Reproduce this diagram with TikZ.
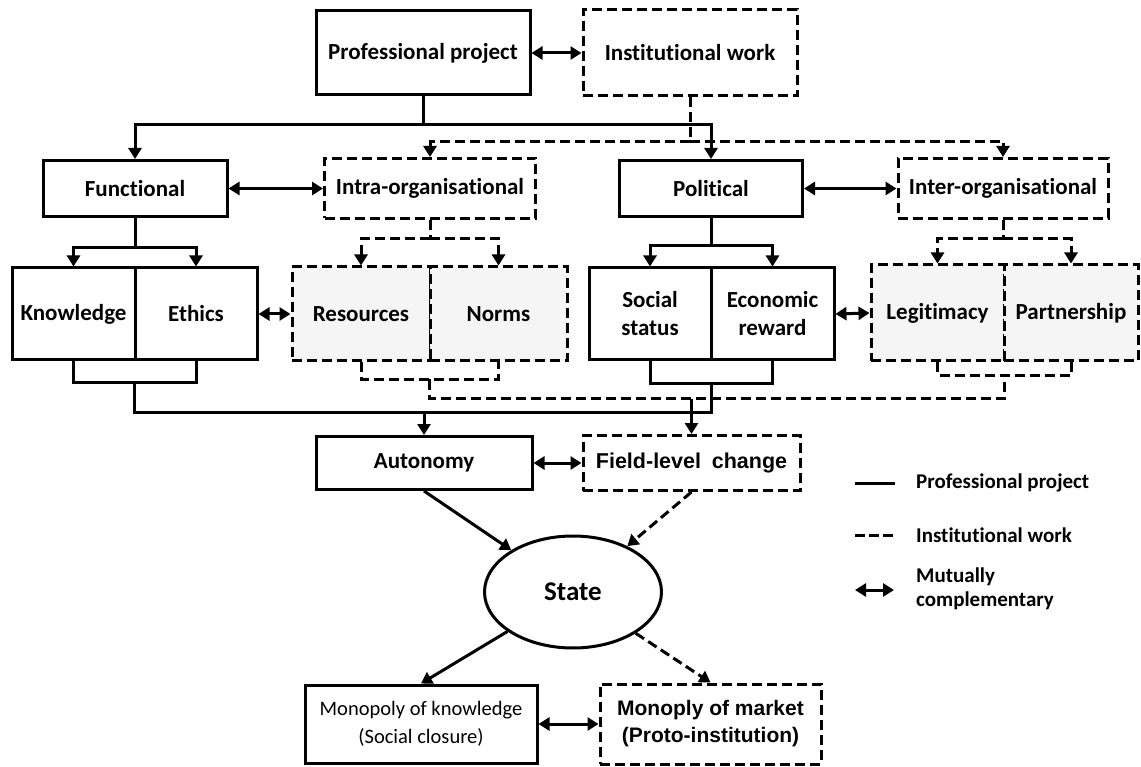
\documentclass[tikz,border=0pt]{standalone}
\usepackage{fontspec}
\setmainfont{Carlito}[Ligatures={NoCommon}]
\newfontfamily\arialf{Liberation Sans}
\usetikzlibrary{arrows.meta,shapes.geometric,calc}
\begin{document}
\begin{tikzpicture}[x=1pt,y=-1pt,
  lw/.style={line width=3pt},
  dpat/.style={dash pattern=on 10pt off 5pt},
  sbox/.style={draw,lw,rectangle,inner sep=0pt,align=center,font=\fontsize{23}{28}\selectfont\bfseries},
  dbox/.style={sbox,dpat},
  gbox/.style={dbox,fill=black!4},
  conn/.style={lw},
  dconn/.style={lw,dpat},
  tip/.style={-{Triangle[length=11pt,width=13pt]}},
  both/.style={lw,{Triangle[length=11pt,width=13pt]}-{Triangle[length=11pt,width=13pt]}},
]
\useasboundingbox (0,0) rectangle (1141,767);

% top row
\node[sbox,minimum width=214pt,minimum height=84pt] (pp) at (423,53) {Professional project};
\node[dbox,minimum width=214pt,minimum height=86pt] (iw) at (690,53) {Institutional work};

% second row
\node[sbox,minimum width=184pt,minimum height=56pt] (func) at (135,188.5) {Functional};
\node[dbox,minimum width=211pt,minimum height=60pt] (intra) at (430,188.5) {Intra-organisational};
\node[sbox,minimum width=183pt,minimum height=56pt] (pol) at (711,188.5) {Political};
\node[dbox,minimum width=210pt,minimum height=60pt] (inter) at (1003,188.5) {Inter-organisational};

% third row
\node[sbox,minimum width=123pt,minimum height=92pt] (know) at (73.5,314) {Knowledge};
\node[sbox,minimum width=122pt,minimum height=92pt] (eth) at (196,314) {Ethics};
\node[gbox,minimum width=138pt,minimum height=94pt] (res) at (361,314) {Resources};
\node[gbox,minimum width=137pt,minimum height=94pt] (norms) at (498.5,314) {Norms};
\node[sbox,minimum width=122pt,minimum height=92pt] (soc) at (650,314) {Social\\status};
\node[sbox,minimum width=123pt,minimum height=92pt] (eco) at (772.5,314) {Economic\\reward};
\node[gbox,minimum width=133pt,minimum height=96pt] (leg) at (937.5,313) {Legitimacy};
\node[gbox,minimum width=134pt,minimum height=96pt] (part) at (1071,313) {Partnership};

% fourth row
\node[sbox,minimum width=216pt,minimum height=53pt] (auto) at (424,463) {Autonomy};
\node[dbox,minimum width=217pt,minimum height=55pt,font=\fontsize{21.5}{26}\selectfont\bfseries\arialf] (field) at (691.5,463) {Field-level\enspace change};

% state
\node[draw,lw,ellipse,minimum width=177pt,minimum height=112pt,inner sep=0pt,font=\fontsize{27}{32}\selectfont\bfseries] (state) at (573,592) {State};

% bottom
\node[sbox,minimum width=232pt,minimum height=78pt,font=\fontsize{20.5}{28}\selectfont] (mok) at (421,724) {Monopoly of knowledge\\(Social closure)};
\node[dbox,minimum width=221pt,minimum height=80pt,font=\fontsize{21}{27}\selectfont\bfseries\arialf] (mom) at (710.5,724) {Monoply of market\\(Proto-institution)};

% top connectors
\draw[both] (pp.east) -- (iw.west);
\coordinate (j1) at ($(pp.south)+(0,28)$);
\draw[conn] (pp.south) -- (j1);
\draw[conn,tip] (j1) -| (func.north);
\draw[conn,tip] (j1) -| (pol.north);
\coordinate (j2) at ($(iw.south)+(0,44)$);
\draw[dconn] (iw.south) -- (j2);
\draw[dconn,tip] (j2) -| (intra.north);
\draw[dconn,tip] (j2) -| (inter.north);

% mutual second row
\draw[both] (func.east) -- (intra.west);
\draw[both] (pol.east) -- (inter.west);

% splits
\coordinate (f1) at ($(func.south)+(0,30)$);
\draw[conn] (func.south) -- (f1);
\draw[conn,tip] (f1) -| (know.north);
\draw[conn,tip] (f1) -| (eth.north);
\coordinate (i1) at ($(intra.south)+(0,19)$);
\draw[dconn] (intra.south) -- (i1);
\draw[dconn,tip] (i1) -| (res.north);
\draw[dconn,tip] (i1) -| (norms.north);
\coordinate (p1) at ($(pol.south)+(0,28)$);
\draw[conn] (pol.south) -- (p1);
\draw[conn,tip] (p1) -| (soc.north);
\draw[conn,tip] (p1) -| (eco.north);
\coordinate (e1) at ($(inter.south)+(0,19)$);
\draw[dconn] (inter.south) -- (e1);
\draw[dconn,tip] (e1) -| (leg.north);
\draw[dconn,tip] (e1) -| (part.north);

% mutual third row
\draw[both] (eth.east) -- (res.west);
\draw[both] (eco.east) -- (leg.west);

% brackets
\draw[conn] (know.south) -- ++(0,21) -| (eth.south);
\draw[conn] (soc.south) -- ++(0,22) -| (eco.south);
\draw[dconn] (res.south) -- ++(0,17) -| (norms.south);
\draw[dconn] (leg.south) -- ++(0,13) -| (part.south);
\coordinate (kb) at ($(know.south)!0.5!(eth.south)+(0,21)$);
\coordinate (sb) at ($(soc.south)!0.5!(eco.south)+(0,22)$);
\coordinate (rb) at ($(res.south)!0.5!(norms.south)+(0,17)$);
\coordinate (lb) at ($(leg.south)!0.5!(part.south)+(0,13)$);
\coordinate (sl) at ($(kb)+(0,30)$);
\coordinate (dl) at ($(rb)+(0,19)$);
\draw[conn] (kb) -- (sl) -| (sb);
\draw[dconn] (rb) -- (dl) -| (lb);
\draw[conn,tip] (auto.north |- sl) -- (auto.north);
\draw[conn,tip] (field.north |- dl) -- (field.north);

% fourth row
\draw[both] (auto.east) -- (field.west);
\draw[conn,tip] (auto.south) -- (state);
\draw[dconn,tip] (field.south) -- (state);
\draw[conn,tip] (state) -- (mok.north);
\draw[dconn,tip] (state) -- (mom.north);
\draw[both] (mok.east) -- (mom.west);

% legend
\coordinate (ls1) at (855,483);
\coordinate (ls2) at (895,483);
\draw[conn] (ls1) -- (ls2);
\node[anchor=west,inner sep=0pt,font=\fontsize{21}{25}\selectfont\bfseries] (lt1) at (916,483) {Professional project};
\coordinate (ld1) at (855,535);
\coordinate (ld2) at (895,535);
\draw[lw,dash pattern=on 10pt off 4pt] (ld1) -- (ld2);
\node[anchor=west,inner sep=0pt,font=\fontsize{21}{25}\selectfont\bfseries] (lt2) at (916,535) {Institutional work};
\coordinate (lm1) at (855,590);
\coordinate (lm2) at (894,590);
\draw[both] (lm1) -- (lm2);
\node[anchor=west,inner sep=0pt,align=left,font=\fontsize{21}{24}\selectfont\bfseries] (lt3) at (916,589) {Mutually\\complementary};
\end{tikzpicture}
\end{document}
